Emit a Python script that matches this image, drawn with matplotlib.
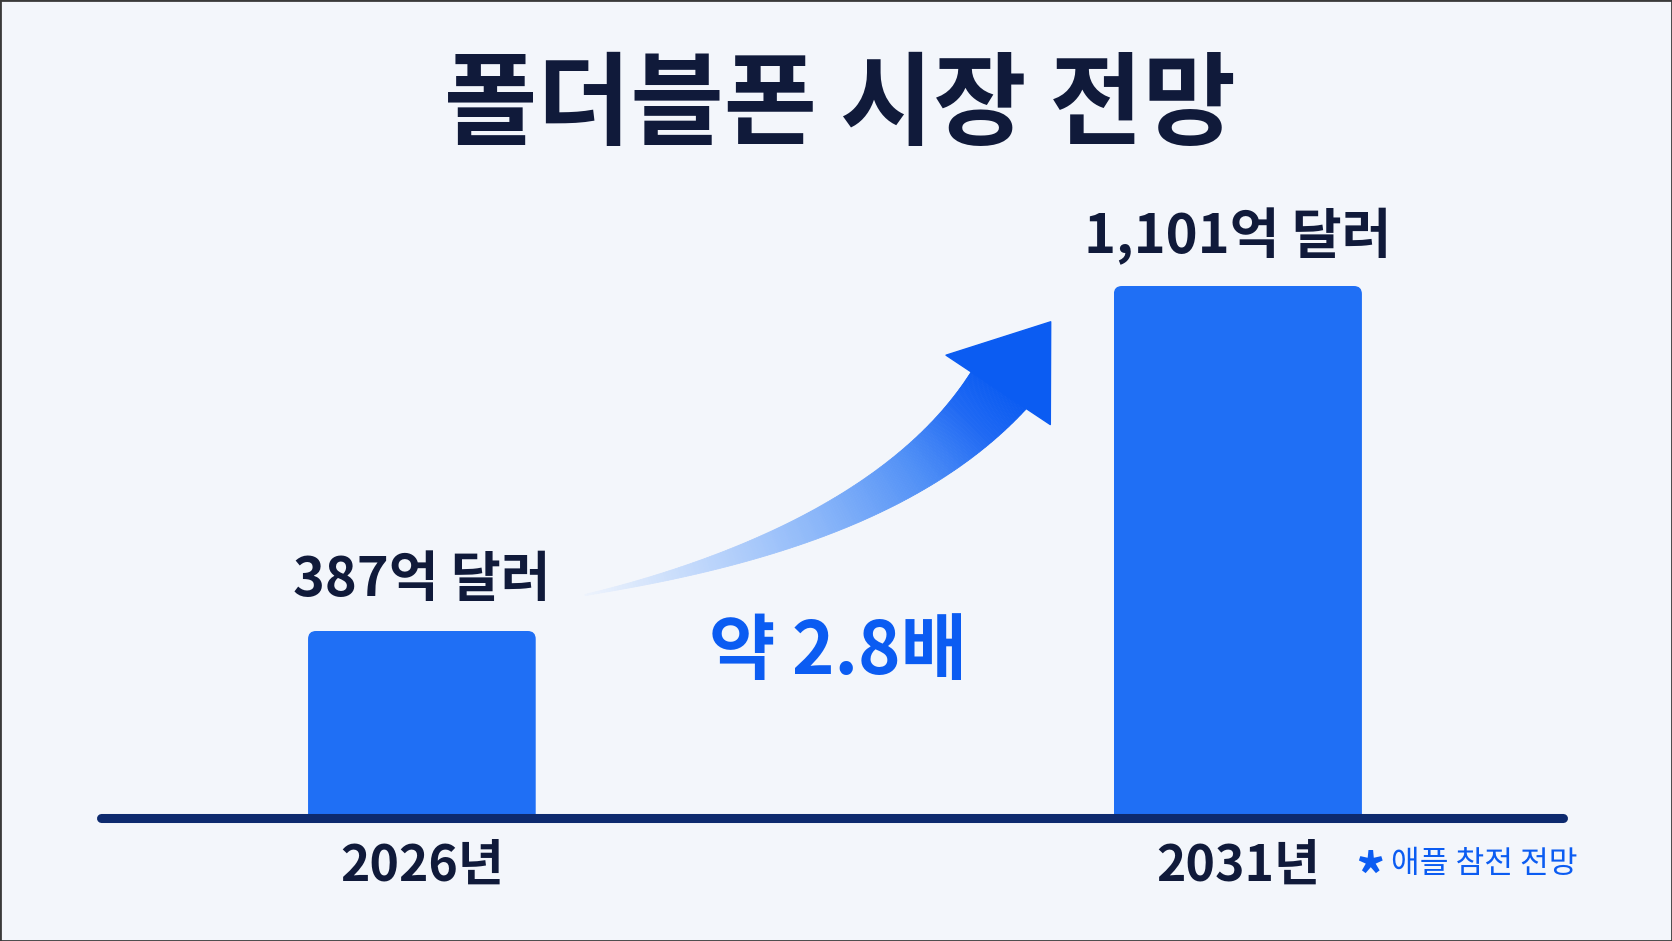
import numpy as np
import matplotlib
matplotlib.use("Agg")
import matplotlib.pyplot as plt
from matplotlib.patches import FancyBboxPatch, Polygon, Rectangle
from matplotlib.colors import LinearSegmentedColormap
import matplotlib.transforms as mtransforms

plt.rcParams['font.family'] = ['Noto Sans CJK KR', 'DejaVu Sans']

# data
years = ['2026년', '2031년']
market = [387, 1101]          # 억 달러
growth_label = '약 2.8배'
title = '폴더블폰 시장 전망'
note = '애플 참전 전망'

BG = '#f3f6fb'
NAVY = '#101a3a'
BAR = '#1f6ff5'
BLUE = '#0b5cf2'
LINE = '#0d2a6e'

W, H = 1672, 941
fig = plt.figure(figsize=(W / 100, H / 100), dpi=100, facecolor=BG)

# main axes: category x, value y (full figure, baseline at 123 px)
ax = fig.add_axes([0, 0, 1, 1])
ax.set_facecolor(BG)
ax.set_xlim(-0.517, 1.532)
ax.set_ylim(-254.6, 1692.9)
ax.axis('off')

xs = np.arange(len(years))
bars = ax.bar(xs, market, width=[0.279, 0.304], color=BAR, zorder=2)

# rounded top corners via clip path
px_x = ax.transData.transform((1, 0))[0] - ax.transData.transform((0, 0))[0]
px_y = ax.transData.transform((0, 1))[1] - ax.transData.transform((0, 0))[1]
r = 8
rx, ry = r / px_x, r / px_y
for b in bars:
    clip = FancyBboxPatch((b.get_x(), b.get_y() - 2 * ry), b.get_width(), b.get_height() + 2 * ry,
                          boxstyle=f"round,pad=0,rounding_size={rx}", mutation_aspect=ry / rx,
                          transform=ax.transData, facecolor='none', edgecolor='none')
    b.set_clip_path(clip)

# value labels
for xi, v in zip(xs, market):
    ax.annotate(f"{v:,}억 달러", (xi, v), xytext=(0, 36), textcoords='offset points',
                ha='center', va='center', fontsize=39, fontweight='heavy', color=NAVY)

# baseline
ax.plot([-0.393, 1.399], [0, 0], color=LINE, lw=6.5, solid_capstyle='round', zorder=3)

# year labels under the baseline
trans = mtransforms.blended_transform_factory(ax.transData, fig.transFigure)
for xi, yr in zip(xs, years):
    ax.text(xi, 75 / H, yr, transform=trans, ha='center', va='center',
            fontsize=36, fontweight='heavy', color=NAVY)

# title and notes
fig.text(840 / W, 833 / H, title, ha='center', va='center', fontsize=73,
         fontweight='heavy', color=NAVY)
fig.text(1370 / W, 60 / H, '*', ha='center', va='center', fontsize=42,
         fontweight='heavy', color=BLUE)
fig.text(1391 / W, 77 / H, note, ha='left', va='center', fontsize=22.5, color=BLUE)
fig.text(838 / W, 288 / H, growth_label, ha='center', va='center', fontsize=52,
         fontweight='heavy', color=BLUE)

# curved gradient arrow (pixel overlay)
ov = fig.add_axes([0, 0, 1, 1])
ov.set_xlim(0, W)
ov.set_ylim(0, H)
ov.axis('off')
ov.patch.set_alpha(0)

P0 = np.array([585.0, 346.0])
P1 = np.array([889.0, 407.0])
P2 = np.array([1001.0, 554.0])
t = np.linspace(0, 1, 220)
pts = ((1 - t) ** 2)[:, None] * P0 + (2 * (1 - t) * t)[:, None] * P1 + (t ** 2)[:, None] * P2
der = (2 * (1 - t))[:, None] * (P1 - P0) + (2 * t)[:, None] * (P2 - P1)
tang = der / np.linalg.norm(der, axis=1)[:, None]
nrm = np.column_stack([-tang[:, 1], tang[:, 0]])
wid = 66 * t ** 1.1 + 1.0
left = pts + nrm * (wid / 2)[:, None]
right = pts - nrm * (wid / 2)[:, None]

cmap = LinearSegmentedColormap.from_list(
    'arr', [(0, '#edf3fd'), (0.18, '#c4dafb'), (0.45, '#8ab6f9'),
            (0.7, '#4f8ff6'), (0.88, '#1f69f3'), (1, BLUE)])
for i in range(len(t) - 1):
    c = cmap(t[i])
    quad = [left[i], left[i + 1], right[i + 1], right[i]]
    ov.add_patch(Polygon(quad, closed=True, facecolor=c, edgecolor=c, lw=0.6))

d = tang[-1]
n = nrm[-1]
tip = P2 + d * 82
cl = P2 + n * 63 - d * 8
cr = P2 - n * 62
ov.add_patch(Polygon([cl, tip, cr], closed=True, facecolor=BLUE, edgecolor=BLUE, lw=1,
                     joinstyle='round'))

# thin frame
fig.patches.append(Rectangle((0, 0), 1, 1, transform=fig.transFigure, fill=False,
                             edgecolor='#3a3a3a', lw=2))

fig.savefig('out.png', dpi=100, facecolor=BG)
